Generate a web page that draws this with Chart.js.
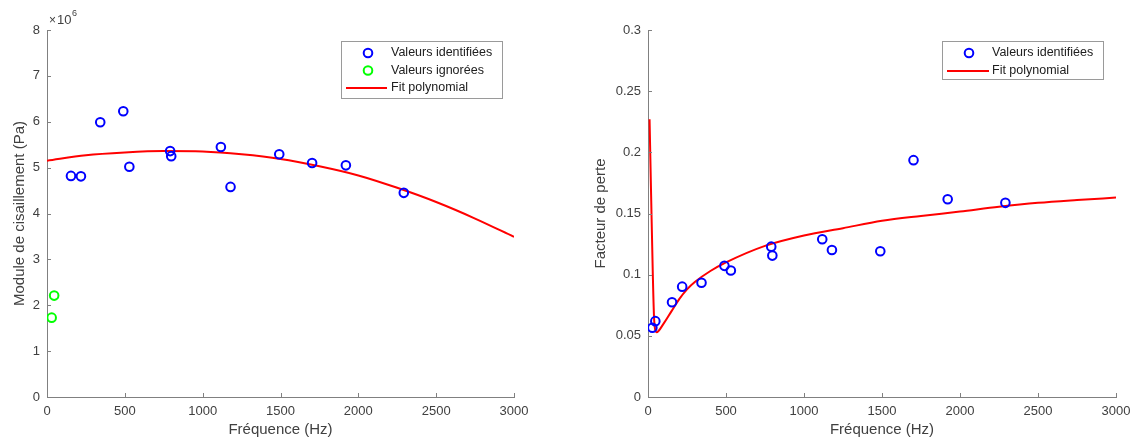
<!DOCTYPE html>
<html>
<head>
<meta charset="utf-8">
<script src="https://cdn.jsdelivr.net/npm/chart.js@4.4.1/dist/chart.umd.min.js"></script>
<style>
  html, body { margin: 0; padding: 0; background: #ffffff; }
  #wrap { position: relative; width: 1138px; height: 446px; overflow: hidden; }
  .box { position: absolute; top: 0; height: 446px; }
  #left { left: 0; width: 565px; }
  #right { left: 565px; width: 573px; }
</style>
</head>
<body>
<div id="wrap">
  <div class="box" id="left"><canvas id="c1"></canvas></div>
  <div class="box" id="right"><canvas id="c2"></canvas></div>
</div>
<script>
// ---------- Data ----------
// Left chart: shear modulus (Pa)
const freqIdentifiedL = [154, 218, 342, 490, 529, 791, 798, 1117, 1179, 1492, 1703, 1920, 2292];
const shearIdentified = [4.82e6, 4.81e6, 5.99e6, 6.23e6, 5.02e6, 5.36e6, 5.25e6, 5.45e6, 4.58e6, 5.29e6, 5.10e6, 5.05e6, 4.45e6];
const freqIgnored = [30, 46];
const shearIgnored = [1.73e6, 2.21e6];
const fitFreqL = [0, 250, 500, 750, 1000, 1250, 1500, 1750, 2000, 2250, 2500, 2750, 3000];
const fitShear = [5.15e6, 5.27e6, 5.33e6, 5.36e6, 5.35e6, 5.29e6, 5.19e6, 5.03e6, 4.83e6, 4.56e6, 4.25e6, 3.89e6, 3.49e6];

// Right chart: loss factor
const freqIdentifiedR = [28, 47, 154, 219, 343, 490, 531, 790, 797, 1117, 1179, 1489, 1702, 1921, 2291];
const lossIdentified = [0.0566, 0.062, 0.0774, 0.0902, 0.0934, 0.1072, 0.1034, 0.1229, 0.1156, 0.1289, 0.1202, 0.1191, 0.1936, 0.1617, 0.1587];
const fitFreqR = [10, 20, 30, 40, 55, 100, 150, 200, 250, 300, 400, 500, 750, 1000, 1250, 1500, 1750, 2000, 2250, 2500, 2750, 3000];
const fitLoss = [0.227, 0.165, 0.105, 0.062, 0.053, 0.060, 0.070, 0.080, 0.088, 0.094, 0.103, 0.110, 0.1235, 0.132, 0.138, 0.144, 0.148, 0.1516, 0.1555, 0.1587, 0.161, 0.163];

// Tick definitions
const xTicks = [0, 500, 1000, 1500, 2000, 2500, 3000];
const yTicksL = [0, 1e6, 2e6, 3e6, 4e6, 5e6, 6e6, 7e6, 8e6];
const yTicksR = [0, 0.05, 0.1, 0.15, 0.2, 0.25, 0.3];
const xTitle = 'Fréquence (Hz)';
const yTitleL = 'Module de cisaillement (Pa)';
const yTitleR = 'Facteur de perte';
const labelIdentified = 'Valeurs identifiées';
const labelIgnored = 'Valeurs ignorées';
const labelFit = 'Fit polynomial';

// ---------- Styling ----------
const FONT = '"Liberation Sans", Arial, Helvetica, sans-serif';
const AXIS = '#808080';
const TEXT = '#404040';
const BLUE = '#0000ff';
const GREEN = '#00ff00';
const RED = '#ff0000';

const pts = (xs, ys) => xs.map((x, i) => ({ x: x, y: ys[i] }));

const markerDs = (label, xs, ys, color) => ({
  label: label, data: pts(xs, ys), type: 'scatter',
  pointStyle: 'circle', pointRadius: 4.3, pointHoverRadius: 4.3,
  borderColor: color, backgroundColor: 'rgba(0,0,0,0)', pointBorderWidth: 2, borderWidth: 2,
  showLine: false
});
const fitDs = (xs, ys) => ({
  label: labelFit, data: pts(xs, ys), type: 'line',
  borderColor: RED, backgroundColor: RED, borderWidth: 2,
  pointRadius: 0, pointHoverRadius: 0, cubicInterpolationMode: 'monotone', fill: false
});

const decor = {
  id: 'decor',
  afterDraw(chart, args, opts) {
    const ctx = chart.ctx, a = chart.chartArea;
    const xs = chart.scales.x, ys = chart.scales.y;
    ctx.save();
    // inward ticks
    ctx.strokeStyle = AXIS; ctx.lineWidth = 1;
    ctx.beginPath();
    xs.ticks.forEach(t => {
      const px = Math.round(xs.getPixelForValue(t.value)) + 0.5;
      ctx.moveTo(px, a.bottom); ctx.lineTo(px, a.bottom - 4);
    });
    ys.ticks.forEach(t => {
      const py = Math.round(ys.getPixelForValue(t.value)) + 0.5;
      ctx.moveTo(a.left, py); ctx.lineTo(a.left + 4, py);
    });
    ctx.stroke();
    // exponent label
    if (opts.exponent) {
      ctx.fillStyle = TEXT;
      ctx.textBaseline = 'middle'; ctx.textAlign = 'left';
      ctx.font = '12px ' + FONT;
      ctx.fillText('×', a.left + 2, 21);
      ctx.font = '13px ' + FONT;
      ctx.fillText('10', a.left + 10, 20);
      ctx.font = '9px ' + FONT;
      ctx.fillText(opts.exponent, a.left + 25, 14);
    }
    // legend box
    const L = opts.legend;
    if (L) {
      ctx.fillStyle = '#ffffff';
      ctx.fillRect(L.x, L.y, L.w, L.h);
      ctx.strokeStyle = '#9a9a9a'; ctx.lineWidth = 1;
      ctx.strokeRect(L.x + 0.5, L.y + 0.5, L.w, L.h);
      L.items.forEach((it, i) => {
        const cy = L.y + L.row0 + i * L.rowH;
        if (it.kind === 'marker') {
          ctx.beginPath();
          ctx.strokeStyle = it.color; ctx.lineWidth = 2;
          ctx.arc(L.x + L.markerX, cy, 4.3, 0, Math.PI * 2);
          ctx.stroke();
        } else {
          ctx.beginPath();
          ctx.strokeStyle = it.color; ctx.lineWidth = 2;
          ctx.moveTo(L.x + L.lineX0, cy); ctx.lineTo(L.x + L.lineX1, cy);
          ctx.stroke();
        }
        ctx.fillStyle = '#202020';
        ctx.font = '12.5px ' + FONT;
        ctx.textBaseline = 'middle'; ctx.textAlign = 'left';
        ctx.fillText(it.text, L.x + L.textX, cy);
      });
    }
    ctx.restore();
  }
};

function makeChart(canvasId, datasets, cfg) {
  return new Chart(document.getElementById(canvasId), {
    type: 'scatter',
    data: { datasets: datasets },
    plugins: [decor],
    options: {
      responsive: true, maintainAspectRatio: false, animation: false,
      events: [],
      layout: { padding: { left: 0, right: cfg.padRight, top: 30, bottom: 0 } },
      plugins: {
        legend: { display: false }, tooltip: { enabled: false },
        decor: { exponent: cfg.exponent, legend: cfg.legend }
      },
      scales: {
        x: {
          type: 'linear', min: 0, max: 3000,
          afterFit: s => { s.height = 49; },
          afterBuildTicks: s => { s.ticks = xTicks.map(v => ({ value: v })); },
          grid: { display: false, drawTicks: false },
          border: { display: true, color: AXIS, width: 1 },
          ticks: { color: TEXT, font: { family: FONT, size: 13 }, padding: 7, maxRotation: 0, callback: v => String(v) },
          title: { display: true, text: xTitle, color: TEXT, font: { family: FONT, size: 15 }, padding: { top: 0, bottom: 7 } }
        },
        y: {
          type: 'linear', min: cfg.yMin, max: cfg.yMax,
          afterFit: s => { s.width = cfg.yWidth; },
          afterBuildTicks: s => { s.ticks = cfg.yTicks.map(v => ({ value: v })); },
          grid: { display: false, drawTicks: false },
          border: { display: true, color: AXIS, width: 1 },
          ticks: { color: TEXT, font: { family: FONT, size: 13 }, padding: 7, callback: cfg.yFormat },
          title: { display: true, text: cfg.yTitle, color: TEXT, font: { family: FONT, size: 15 }, padding: { top: cfg.yTitlePad, bottom: 0 } }
        }
      }
    }
  });
}

makeChart('c1', [
  markerDs(labelIdentified, freqIdentifiedL, shearIdentified, BLUE),
  markerDs(labelIgnored, freqIgnored, shearIgnored, GREEN),
  fitDs(fitFreqL, fitShear)
], {
  padRight: 51, yWidth: 47, yMin: 0, yMax: 8e6, yTicks: yTicksL,
  yFormat: v => String(Math.round(v / 1e6)), yTitle: yTitleL, yTitlePad: 11, exponent: '6',
  legend: {
    x: 341, y: 41, w: 161, h: 57, row0: 12, rowH: 17.5, markerX: 27, textX: 50, lineX0: 5, lineX1: 46,
    items: [
      { kind: 'marker', color: BLUE, text: labelIdentified },
      { kind: 'marker', color: GREEN, text: labelIgnored },
      { kind: 'line', color: RED, text: labelFit }
    ]
  }
});

makeChart('c2', [
  markerDs(labelIdentified, freqIdentifiedR, lossIdentified, BLUE),
  fitDs(fitFreqR, fitLoss)
], {
  padRight: 22, yWidth: 83, yMin: 0, yMax: 0.3, yTicks: yTicksR,
  yFormat: v => String(Math.round(v * 100) / 100), yTitle: yTitleR, yTitlePad: 27, exponent: null,
  legend: {
    x: 377, y: 41, w: 161, h: 38, row0: 12, rowH: 18, markerX: 27, textX: 50, lineX0: 5, lineX1: 47,
    items: [
      { kind: 'marker', color: BLUE, text: labelIdentified },
      { kind: 'line', color: RED, text: labelFit }
    ]
  }
});
</script>
</body>
</html>
